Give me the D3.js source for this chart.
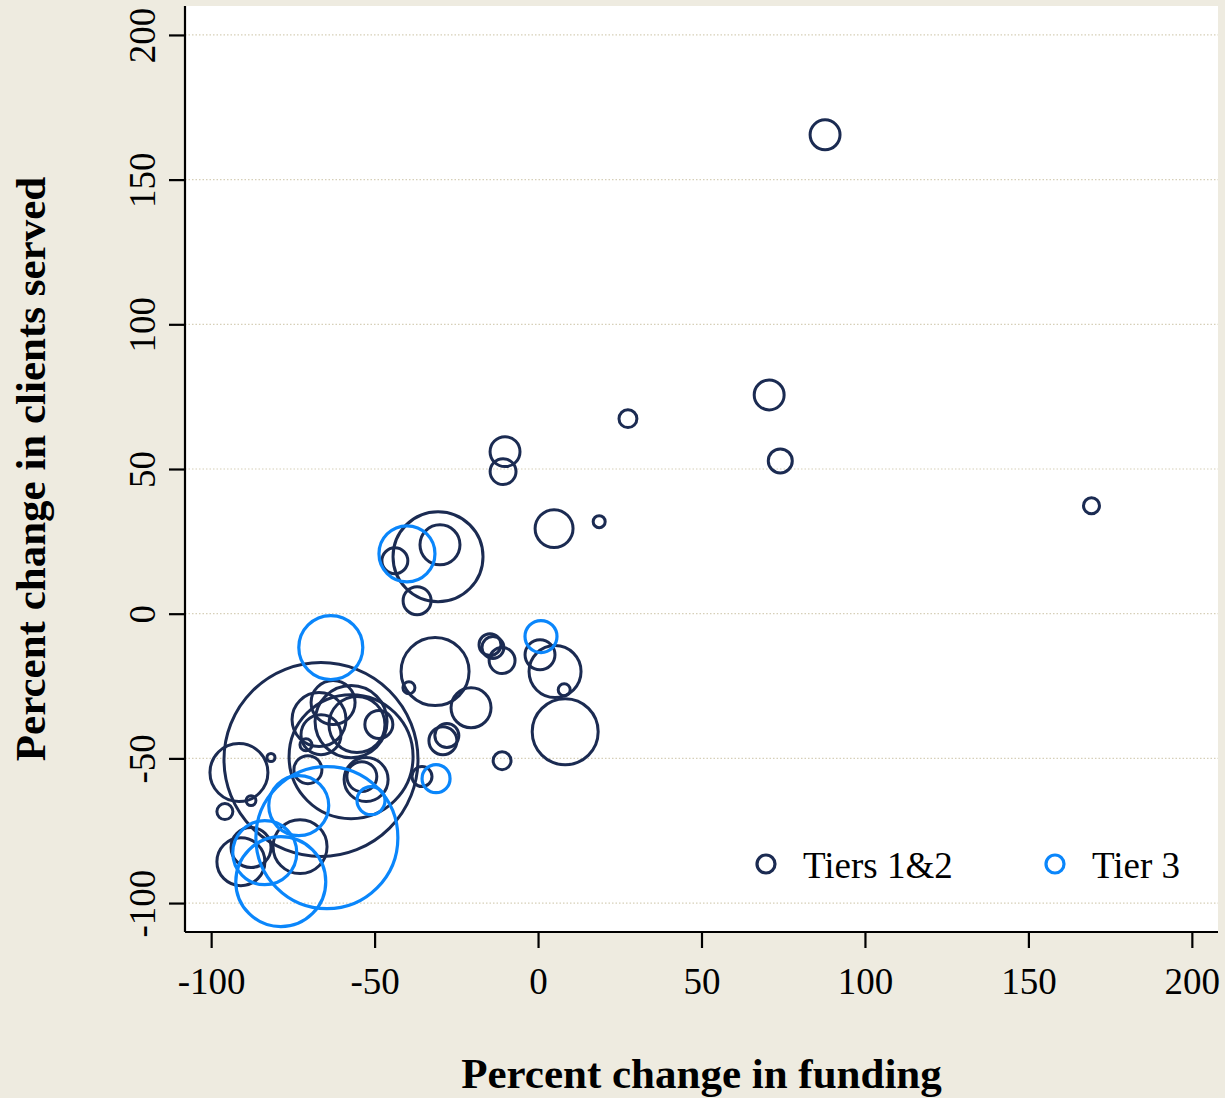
<!DOCTYPE html>
<html>
<head>
<meta charset="utf-8">
<script src="https://cdn.jsdelivr.net/npm/d3@7"></script>
<style>
  html, body { margin: 0; padding: 0; background: #eeebe0; }
  svg { display: block; }
  text { font-family: "Liberation Serif", "Times New Roman", serif; fill: #000; }
</style>
</head>
<body>
<svg id="chart" width="1225" height="1098"></svg>
<script>
// Percent change in funding (x), percent change in clients served (y), size weight (s)
const tier12X = [87.8, 70.7, 74.1, 27.5, 169.3, 18.7, 4.9, -10.1, -10.7, -30.6, -30.0, -43.8, -37.0,
  -31.5, -39.5, -20.5, -29.1, -27.9, -11.0, -14.7, -13.8, -11.0, 0.6, 5.2, 8.0, 8.3,
  -66.4, -57.2, -62.7, -67.0, -57.2, -55.4, -48.7, -66.4, -71.0, -70.4, -52.6, -53.9, -35.5,
  -91.5, -95.8, -87.8, -81.7, -90.9, -87.8, -72.8];
const tier12Y = [165.5, 75.6, 52.8, 67.4, 37.3, 31.8, 29.4, 56.0, 49.1, 19.7, 23.8, 18.3, 4.5,
  -20.0, -25.6, -32.5, -43.9, -42.1, -50.8, -10.7, -11.7, -16.2, -14.2, -20.0, -26.3, -40.8,
  -50.4, -49.4, -30.7, -36.6, -37.3, -38.3, -38.3, -41.8, -45.3, -53.9, -57.3, -56.3, -56.3,
  -54.9, -68.4, -64.6, -49.7, -85.7, -80.8, -80.5];
const tier12S = [56, 56, 36, 20, 16, 9, 90, 56, 42, 506, 100, 42, 49,
  289, 9, 100, 49, 36, 20, 30, 30, 42, 56, 169, 9, 272,
  2352, 961, 121, 182, 324, 196, 49, 100, 9, 49, 121, 56, 25,
  210, 16, 6, 4, 144, 100, 182];

const tier3X = [-63.4, -40.1, 0.9, -31.2, -51.1, -73.2, -83.6, -78.7, -64.6];
const tier3Y = [-11.7, 20.7, -7.9, -57.0, -64.6, -66.3, -82.6, -92.6, -77.4];
const tier3S = [256, 196, 64, 49, 49, 225, 256, 506, 1260];

const xTicks = [-100, -50, 0, 50, 100, 150, 200];
const xTickLabels = ["-100", "-50", "0", "50", "100", "150", "200"];
const yTicks = [200, 150, 100, 50, 0, -50, -100];
const yTickLabels = ["200", "150", "100", "50", "0", "-50", "-100"];
const seriesNames = ["Tiers 1&2", "Tier 3"];
const seriesColors = ["#1b2b52", "#0a86fb"];

const svg = d3.select("#chart");
const W = 1225, H = 1098;
const plot = { left: 185, right: 1218, top: 6, bottom: 932 };

const x = d3.scaleLinear().domain([-108, 208]).range([plot.left, plot.right]);
const y = d3.scaleLinear().domain([-110, 210]).range([plot.bottom, plot.top]);
const r = d3.scaleSqrt().domain([0, 2352]).range([0, 97]);

svg.append("rect").attr("width", W).attr("height", H).attr("fill", "#eeebe0");
svg.append("rect")
  .attr("x", plot.left).attr("y", plot.top)
  .attr("width", plot.right - plot.left).attr("height", plot.bottom - plot.top)
  .attr("fill", "#ffffff");

// dotted horizontal grid
svg.append("g").selectAll("line").data(yTicks).join("line")
  .attr("x1", plot.left).attr("x2", plot.right)
  .attr("y1", d => y(d)).attr("y2", d => y(d))
  .attr("stroke", "#d6cfb8").attr("stroke-width", 1.2)
  .attr("stroke-dasharray", "1.5,2");

svg.append("clipPath").attr("id", "plotclip").append("rect")
  .attr("x", plot.left).attr("y", plot.top)
  .attr("width", plot.right - plot.left).attr("height", plot.bottom - plot.top);

const marks = svg.append("g").attr("clip-path", "url(#plotclip)");

const t12 = tier12X.map((v, i) => ({ x: v, y: tier12Y[i], s: tier12S[i] }));
const t3 = tier3X.map((v, i) => ({ x: v, y: tier3Y[i], s: tier3S[i] }));

marks.append("g").selectAll("circle").data(t12).join("circle")
  .attr("cx", d => x(d.x)).attr("cy", d => y(d.y)).attr("r", d => r(d.s))
  .attr("fill", "none").attr("stroke", seriesColors[0]).attr("stroke-width", 3);

marks.append("g").selectAll("circle").data(t3).join("circle")
  .attr("cx", d => x(d.x)).attr("cy", d => y(d.y)).attr("r", d => r(d.s))
  .attr("fill", "none").attr("stroke", seriesColors[1]).attr("stroke-width", 3.2);

// axes
const xAxis = d3.axisBottom(x).tickValues(xTicks).tickSize(16).tickPadding(20)
  .tickFormat((d, i) => xTickLabels[i]);
const gx = svg.append("g").attr("transform", `translate(0,${plot.bottom})`).call(xAxis);
gx.select(".domain").attr("stroke", "#000").attr("stroke-width", 2.2)
  .attr("d", `M${plot.left},0H${plot.right}`);
gx.selectAll(".tick line").attr("stroke", "#000").attr("stroke-width", 2.2);
gx.selectAll(".tick text").attr("font-size", 37).attr("font-family", "Liberation Serif")
  .attr("fill", "#000");

const yAxis = d3.axisLeft(y).tickValues(yTicks).tickSize(16).tickPadding(0)
  .tickFormat((d, i) => yTickLabels[i]);
const gy = svg.append("g").attr("transform", `translate(${plot.left},0)`).call(yAxis);
gy.select(".domain").attr("stroke", "#000").attr("stroke-width", 2.2)
  .attr("d", `M0,${plot.top}V${plot.bottom}`);
gy.selectAll(".tick line").attr("stroke", "#000").attr("stroke-width", 2.2);
gy.selectAll(".tick text")
  .attr("x", null).attr("dy", null)
  .attr("transform", "translate(-30,0) rotate(-90)")
  .attr("text-anchor", "middle")
  .attr("font-size", 37).attr("font-family", "Liberation Serif").attr("fill", "#000");

// axis titles
svg.append("text")
  .attr("x", (plot.left + plot.right) / 2).attr("y", 1088)
  .attr("text-anchor", "middle").attr("font-weight", "bold").attr("font-size", 43)
  .text("Percent change in funding");
svg.append("text")
  .attr("transform", `translate(45,${(plot.top + plot.bottom) / 2}) rotate(-90)`)
  .attr("text-anchor", "middle").attr("font-weight", "bold").attr("font-size", 43)
  .text("Percent change in clients served");

// legend
const legendItems = [
  { name: seriesNames[0], color: seriesColors[0], cx: 766, tx: 803 },
  { name: seriesNames[1], color: seriesColors[1], cx: 1055, tx: 1092 }
];
const lg = svg.append("g");
lg.selectAll("circle").data(legendItems).join("circle")
  .attr("cx", d => d.cx).attr("cy", 864).attr("r", 9)
  .attr("fill", "none").attr("stroke", d => d.color).attr("stroke-width", 3.2);
lg.selectAll("text").data(legendItems).join("text")
  .attr("x", d => d.tx).attr("y", 878).attr("font-size", 37)
  .text(d => d.name);
</script>
</body>
</html>
